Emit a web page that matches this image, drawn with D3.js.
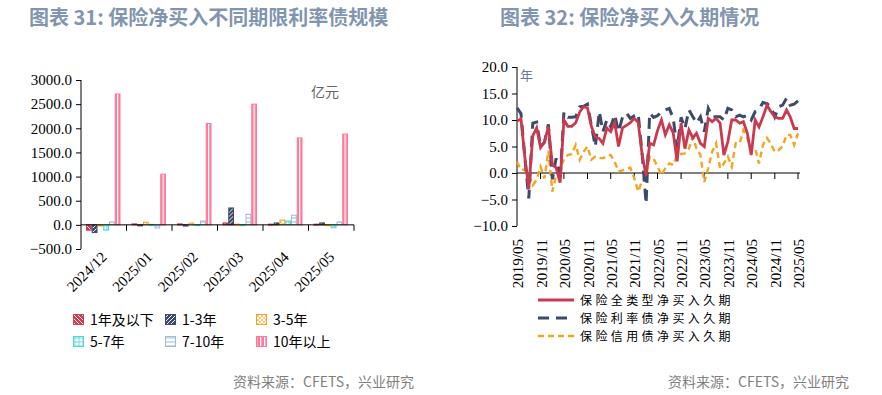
<!DOCTYPE html>
<html lang="zh">
<head>
<meta charset="UTF-8">
<title>保险净买入</title>
<style>
  body { margin: 0; background: #fff; }
  svg { display: block; }
  .num { font-family: "Liberation Serif", "Times New Roman", serif; font-size: 15px; fill: #000; }
  .cjk { font-family: "Noto Sans CJK SC", sans-serif; }
  .title { font-family: "Noto Sans CJK SC", sans-serif; font-weight: bold; font-size: 20px; fill: #8295b0; }
  .src { font-family: "Noto Sans CJK SC", sans-serif; font-size: 14px; fill: #7f7f7f; }
  .axis path, .axis line { stroke: #000; }
</style>
</head>
<body>
<svg width="882" height="395"></svg>
<script src="https://cdn.jsdelivr.net/npm/d3@7"></script>
<script>
// ---- left chart data (亿元) ----
var months = ["2024/12", "2025/01", "2025/02", "2025/03", "2025/04", "2025/05"];
var tenors = ["1年及以下", "1-3年", "3-5年", "5-7年", "7-10年", "10年以上"];
var v1y   = [-110, 20, 20, 40, 15, 15];
var v1_3  = [-160, -20, -25, 350, 40, 40];
var v3_5  = [-15, 55, 35, 15, 100, 5];
var v5_7  = [-110, 10, 5, 5, 80, -60];
var v7_10 = [60, -65, 80, 220, 200, 60];
var v10p  = [2710, 1050, 2100, 2500, 1800, 1880];
var leftTicks = [-500, 0, 500, 1000, 1500, 2000, 2500, 3000];

// ---- right chart data (年), monthly 2019/05 - 2025/05 ----
var durTicks = ["2019/05", "2019/11", "2020/05", "2020/11", "2021/05", "2021/11", "2022/05",
                "2022/11", "2023/05", "2023/11", "2024/05", "2024/11", "2025/05"];
var durAll = [9.8, 10.2, 3.0, -3.0, 7.0, 8.5, 4.8, 5.8, 8.8, 1.5, 1.0, -1.8,
              10.0, 8.8, 8.8, 9.5, 11.5, 12.5, 12.3, 8.8, 6.8, 6.5, 5.6, 8.5,
              7.8, 9.5, 5.0, 8.5, 9.0, 9.5, 10.3, 9.6, 3.5, -0.5, 5.6, 5.3,
              8.0, 10.0, 7.2, 9.1, 7.5, 2.2, 9.4, 4.6, 8.1, 6.6, 7.5, 5.6,
              5.0, 10.3, 9.7, 10.3, 9.4, 3.4, 5.9, 10.0, 10.0, 9.4, 9.7, 7.5,
              3.4, 10.0, 8.7, 10.6, 12.8, 11.6, 10.6, 10.3, 10.3, 11.9, 10.6, 8.4, 8.4];
var durRate = [12.3, 11.2, 3.0, -4.8, 9.4, 9.6, 5.0, 5.8, 9.2, -1.2, 2.8, -1.5,
               11.5, 10.5, 10.5, 10.6, 12.5, 12.6, 13.0, 9.0, 5.0, 11.6, 7.8, 10.0,
               8.7, 11.0, 7.8, 10.5, 11.3, 10.3, 10.8, 11.2, 3.7, -5.8, 11.3, 10.5,
               10.8, 11.6, 11.9, 12.2, 10.3, 4.6, 10.5, 8.4, 11.9, 10.6, 9.4, 10.6,
               7.8, 12.2, 10.6, 10.6, 10.6, 10.0, 12.2, 11.9, 10.6, 10.9, 10.6, 10.9,
               10.0, 11.6, 12.0, 13.3, 13.1, 12.5, 10.6, 12.5, 12.8, 14.1, 12.8, 13.0, 13.6];
var durCredit = [2.1, 0.6, 0.6, -0.4, -2.3, -1.3, 1.2, -1.0, 4.2, -3.5, -0.4, 1.0,
                 2.5, 3.4, 3.6, 5.3, 2.5, 4.0, 5.0, 2.5, 3.1, 2.8, 2.8, 3.1,
                 3.4, 2.1, 0.3, 0.5, 0.8, 1.0, -1.0, -3.5, -1.5, -0.7, 3.1, 2.7,
                 1.2, -0.4, 0.9, 1.8, 1.5, 3.4, 3.6, 3.7, 4.6, 6.8, 4.6, 3.4,
                 -1.7, 0.9, 4.0, 5.6, 0.9, 1.8, 3.1, 1.2, 5.6, 5.6, 8.1, 6.6,
                 4.3, 4.6, 1.8, 5.3, 6.6, 5.6, 4.0, 4.3, 5.0, 7.2, 7.2, 5.3, 7.5];
var durNames = ["保险全类型净买入久期", "保险利率债净买入久期", "保险信用债净买入久期"];
var rightTicks = [-10, -5, 0, 5, 10, 15, 20];

(function() {
  'use strict';
  var svg = d3.select("svg");
  var defs = svg.append("defs");

  var colors = ["#cf3d52", "#3d4a68", "#f5a320", "#4ed8d2", "#9dbad8", "#ff7a98"];

  // hatch patterns for the six tenors
  function pat(id, w, h, bg, draw) {
    var p = defs.append("pattern").attr("id", id).attr("patternUnits", "userSpaceOnUse")
      .attr("width", w).attr("height", h);
    p.append("rect").attr("width", w).attr("height", h).attr("fill", bg);
    draw(p);
  }
  pat("p0", 4, 4, colors[0], function(p) {
    p.append("path").attr("d", "M0,0L4,4M-1,3L1,5M3,-1L5,1").attr("stroke", "#fff").attr("stroke-width", 0.9);
  });
  pat("p1", 4, 4, colors[1], function(p) {
    p.append("path").attr("d", "M0,4L4,0M-1,1L1,-1M3,5L5,3").attr("stroke", "#fff").attr("stroke-width", 0.9);
  });
  pat("p2", 4, 4, "#fff", function(p) {
    p.append("path").attr("d", "M0,0L4,4M0,4L4,0").attr("stroke", colors[2]).attr("stroke-width", 0.6);
  });
  pat("p3", 4, 4, "#fff", function(p) {
    p.append("path").attr("d", "M2,0V4M0,2H4").attr("stroke", colors[3]).attr("stroke-width", 0.8);
  });
  pat("p4", 4, 4, "#fff", function(p) {
    p.append("path").attr("d", "M0,2H4").attr("stroke", colors[4]).attr("stroke-width", 1);
  });
  pat("p5", 4, 4, colors[5], function(p) {
    p.append("rect").attr("x", 0).attr("width", 1.3).attr("height", 4).attr("fill", "#fff");
  });

  // titles and sources
  svg.append("text").attr("class", "title").attr("x", 29).attr("y", 25)
    .text("图表 31: 保险净买入不同期限利率债规模");
  svg.append("text").attr("class", "title").attr("x", 500).attr("y", 25)
    .text("图表 32: 保险净买入久期情况");
  svg.append("text").attr("class", "src").attr("x", 233).attr("y", 387).text("资料来源：CFETS，兴业研究");
  svg.append("text").attr("class", "src").attr("x", 668).attr("y", 387).text("资料来源：CFETS，兴业研究");

  // ===== left chart =====
  var series = [v1y, v1_3, v3_5, v5_7, v7_10, v10p];
  var y = d3.scaleLinear().domain([-500, 3000]).range([249, 80]);
  var x0 = d3.scaleBand().domain(months).range([81, 354]);
  var x1 = d3.scaleBand().domain(d3.range(6)).range([5, x0.bandwidth() - 6]);

  var gl = svg.append("g");
  gl.append("g").attr("class", "axis num").attr("transform", "translate(81,0)")
    .call(d3.axisLeft(y).tickValues(leftTicks).tickFormat(d3.format(".1f")).tickSize(5))
    .call(function(g) { g.selectAll("text").attr("class", "num").attr("dx", "-1"); g.select(".domain").attr("d", "M0,249V80"); });

  var grp = gl.selectAll(".grp").data(months).enter().append("g")
    .attr("transform", function(d) { return "translate(" + x0(d) + ",0)"; });
  grp.selectAll("rect").data(function(d, i) {
      return series.map(function(s, k) { return { k: k, v: s[i] }; });
    }).enter().append("rect")
    .attr("x", function(d) { return x1(d.k) + 0.5; })
    .attr("width", x1.bandwidth() - 1)
    .attr("y", function(d) { return Math.min(y(d.v), y(0)); })
    .attr("height", function(d) { return Math.max(1, Math.abs(y(d.v) - y(0))); })
    .attr("fill", function(d) { return "url(#p" + d.k + ")"; })
    .attr("stroke", function(d) { return colors[d.k]; })
    .attr("stroke-width", 1);

  // zero axis with band ticks
  var zx = gl.append("g").attr("transform", "translate(0," + y(0) + ")");
  zx.append("line").attr("x1", 81).attr("x2", 354).attr("stroke", "#000");
  zx.selectAll(".tk").data(months).enter().append("line")
    .attr("x1", function(d) { return x0(d) + x0.bandwidth(); })
    .attr("x2", function(d) { return x0(d) + x0.bandwidth(); })
    .attr("y1", 0).attr("y2", 6).attr("stroke", "#000");

  gl.selectAll(".ml").data(months).enter().append("text").attr("class", "num")
    .attr("text-anchor", "end")
    .attr("transform", function(d) {
      return "translate(" + (x0(d) + x0.bandwidth() / 2 + 4) + ",258) rotate(-45)";
    })
    .text(function(d) { return d; });

  gl.append("text").attr("class", "cjk").attr("x", 311).attr("y", 97)
    .attr("font-size", 14).attr("fill", "#666").text("亿元");

  // legend
  var leg = gl.selectAll(".lg").data(tenors).enter().append("g")
    .attr("transform", function(d, i) {
      return "translate(" + [73, 165, 256][i % 3] + "," + (314 + Math.floor(i / 3) * 22) + ")";
    });
  leg.append("rect").attr("x", 0.5).attr("y", 0.5).attr("width", 10).attr("height", 10)
    .attr("fill", function(d, i) { return "url(#p" + i + ")"; })
    .attr("stroke", function(d, i) { return colors[i]; });
  leg.append("text").attr("class", "cjk").attr("x", 17).attr("y", 11)
    .attr("font-size", 14).attr("fill", "#000").text(function(d) { return d; });

  // ===== right chart =====
  var parse = d3.timeParse("%Y/%m");
  var dates = d3.range(durAll.length).map(function(i) { return d3.timeMonth.offset(parse("2019/05"), i); });
  var xr = d3.scaleTime().domain([dates[0], dates[dates.length - 1]]).range([517, 798]);
  var yr = d3.scaleLinear().domain([-10, 20]).range([226, 67]);

  var gr = svg.append("g");
  gr.append("g").attr("class", "axis").attr("transform", "translate(517,0)")
    .call(d3.axisLeft(yr).tickValues(rightTicks).tickFormat(d3.format(".1f")).tickSize(5))
    .call(function(g) { g.selectAll("text").attr("class", "num").attr("dx", "-1"); g.select(".domain").attr("d", "M0,226V67"); });

  var tickDates = durTicks.map(parse);
  var xa = gr.append("g").attr("transform", "translate(0," + yr(0) + ")");
  xa.append("line").attr("x1", 517).attr("x2", 800).attr("stroke", "#000");
  xa.selectAll(".tk").data(tickDates.slice(1)).enter().append("line")
    .attr("x1", function(d) { return xr(d); }).attr("x2", function(d) { return xr(d); })
    .attr("y1", 0).attr("y2", 6).attr("stroke", "#000");

  gr.selectAll(".dl").data(tickDates).enter().append("text").attr("class", "num")
    .attr("text-anchor", "end")
    .attr("transform", function(d) { return "translate(" + (xr(d) + 6) + ",239) rotate(-90)"; })
    .text(d3.timeFormat("%Y/%m"));

  gr.append("text").attr("class", "cjk").attr("x", 520).attr("y", 80)
    .attr("font-size", 13).attr("fill", "#6a7a95").text("年");

  var lineColors = ["#c93a4f", "#3d4a68", "#f5a320"];
  var dashes = [null, "11,7", "6,4"];
  var widths = [2.8, 3, 2.4];
  var line = d3.line().x(function(d, i) { return xr(dates[i]); }).y(function(d) { return yr(d); });
  [durCredit, durRate, durAll].forEach(function(s) {
    var k = s === durAll ? 0 : (s === durRate ? 1 : 2);
    gr.append("path").datum(s).attr("d", line).attr("fill", "none")
      .attr("stroke", lineColors[k]).attr("stroke-width", widths[k])
      .attr("stroke-dasharray", dashes[k]);
  });

  var rl = gr.selectAll(".rl").data(durNames).enter().append("g")
    .attr("transform", function(d, i) { return "translate(538," + (300 + i * 18) + ")"; });
  rl.append("line").attr("x1", 0).attr("x2", 36)
    .attr("stroke", function(d, i) { return lineColors[i]; })
    .attr("stroke-width", function(d, i) { return widths[i]; })
    .attr("stroke-dasharray", function(d, i) { return dashes[i]; });
  rl.append("text").attr("class", "cjk").attr("x", 42).attr("y", 5)
    .attr("font-size", 12).attr("letter-spacing", 3.4)
    .attr("fill", "#000").text(function(d) { return d; });
})();
</script>
</body>
</html>
